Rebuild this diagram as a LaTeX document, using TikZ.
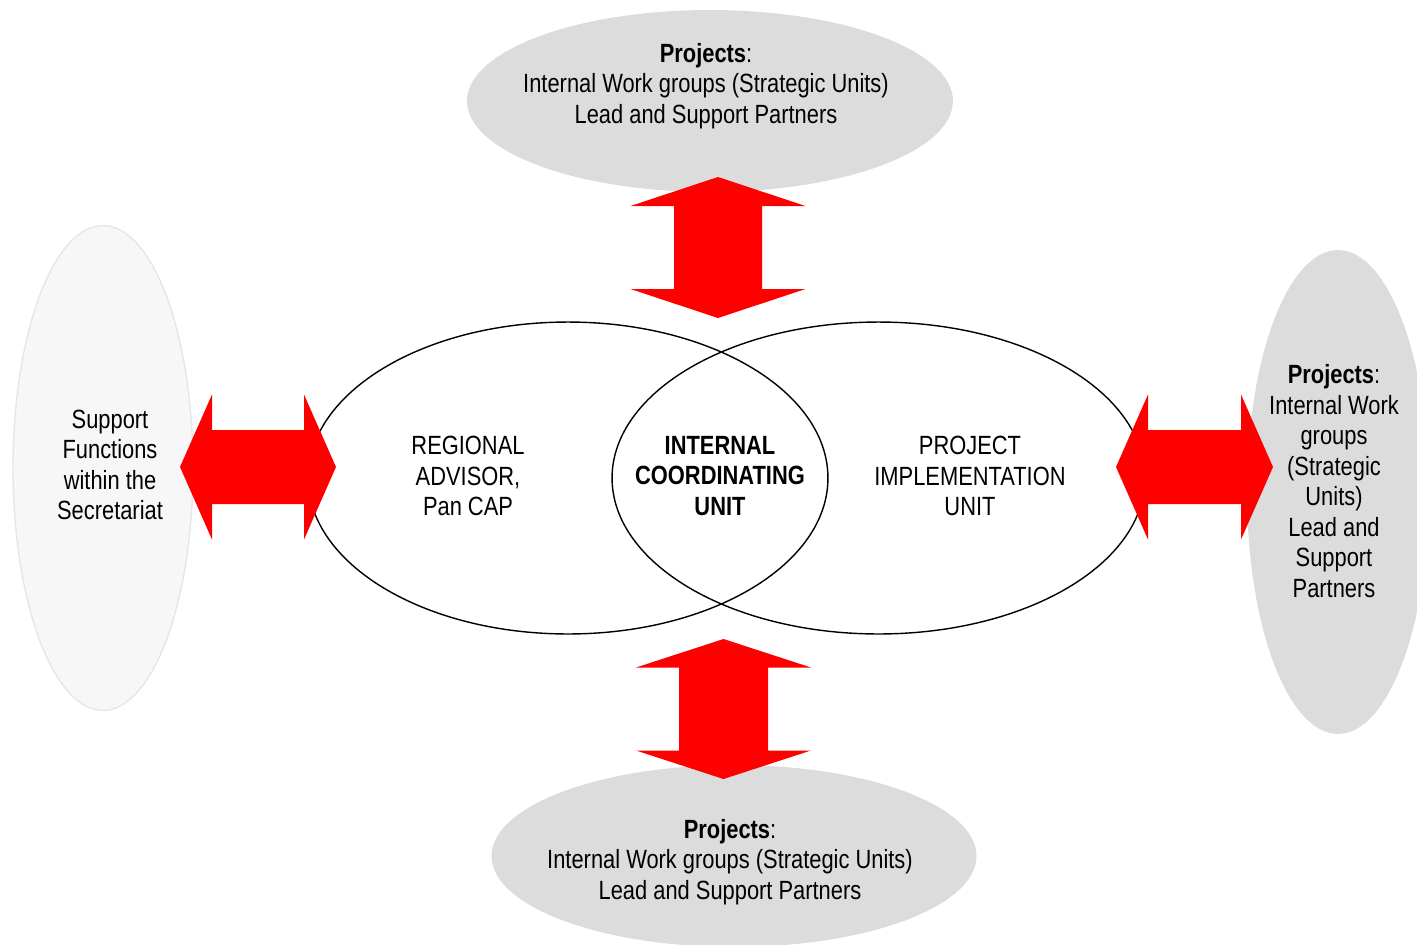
\documentclass[tikz,border=0pt]{standalone}
\usepackage{fontspec}
\setmainfont{Liberation Sans}[FakeStretch=0.83]
\usepackage{tikz}
\usetikzlibrary{shapes.geometric, positioning}
\usepackage{xcolor}
\definecolor{projgray}{RGB}{220,220,220}
\definecolor{suppgray}{RGB}{247,247,247}
\definecolor{suppline}{RGB}{230,230,230}
\definecolor{arrowred}{RGB}{255,0,0}

\begin{document}
\begin{tikzpicture}[x=0.02cm, y=-0.02cm,
    projbox/.style={ellipse, fill=projgray, draw=none, inner sep=0pt},
    suppbox/.style={ellipse, fill=suppgray, draw=suppline, line width=0.8pt, inner sep=0pt},
    unitbox/.style={ellipse, draw=black, line width=0.8pt, inner sep=0pt},
    txt/.style={align=center, inner sep=0pt, font=\fontsize{15}{17.4}\selectfont},
    redarrow/.style={fill=arrowred, draw=none}]
    \useasboundingbox (0,0) rectangle (1417,944);

    % outer ellipses
    \node[projbox, minimum width=9.72cm, minimum height=3.64cm] (projtop) at (710,101) {};
    \node[projbox, minimum width=9.70cm, minimum height=3.64cm] (projbot) at (734,856) {};
    \node[projbox, minimum width=3.64cm, minimum height=9.68cm] (projright) at (1338,492) {};
    \node[suppbox, minimum width=3.60cm, minimum height=9.70cm] (support) at (103,468) {};

    % the two overlapping units
    \node[unitbox, minimum width=10.40cm, minimum height=6.24cm] (regional) at (568,478) {};
    \node[unitbox, minimum width=10.66cm, minimum height=6.24cm] (pimu) at (878.5,478) {};

    % texts
    \node[txt] (projtop-txt) at (706,86) {\textbf{Projects}:\\Internal Work groups (Strategic Units)\\Lead and Support Partners};
    \node[txt] (projbot-txt) at (730,862) {\textbf{Projects}:\\Internal Work groups (Strategic Units)\\Lead and Support Partners};
    \node[txt] (projright-txt) at (1334,481) {\textbf{Projects}:\\Internal Work\\groups\\(Strategic\\Units)\\Lead and\\Support\\Partners};
    \node[txt] (support-txt) at (110,465) {Support\\Functions\\within the\\Secretariat};
    \node[txt] (regional-txt) at (468,476) {REGIONAL\\ADVISOR,\\Pan CAP};
    \node[txt] (icu-txt) at (720,476) {\textbf{INTERNAL}\\\textbf{COORDINATING}\\\textbf{UNIT}};
    \node[txt] (pimu-txt) at (970,476) {PROJECT\\IMPLEMENTATION\\UNIT};

    % red double arrows: centre / angle / half length / head length / shaft / head
    \foreach \cx/\cy/\ang/\L/\k/\s/\h in {258/467/0/78/32/37/72.5, 1194.5/467/0/78.5/32/37/72.5,
                                         718/247.5/90/70.5/29/44/87.5, 723.5/709/90/70/28.5/44.5/87.5}
        \fill[redarrow, shift={(\cx,\cy)}, rotate=\ang]
            (-\L,0) -- (-\L+\k,\h) -- (-\L+\k,\s) -- (\L-\k,\s) -- (\L-\k,\h) -- (\L,0)
            -- (\L-\k,-\h) -- (\L-\k,-\s) -- (-\L+\k,-\s) -- (-\L+\k,-\h) -- cycle;
\end{tikzpicture}
\end{document}
